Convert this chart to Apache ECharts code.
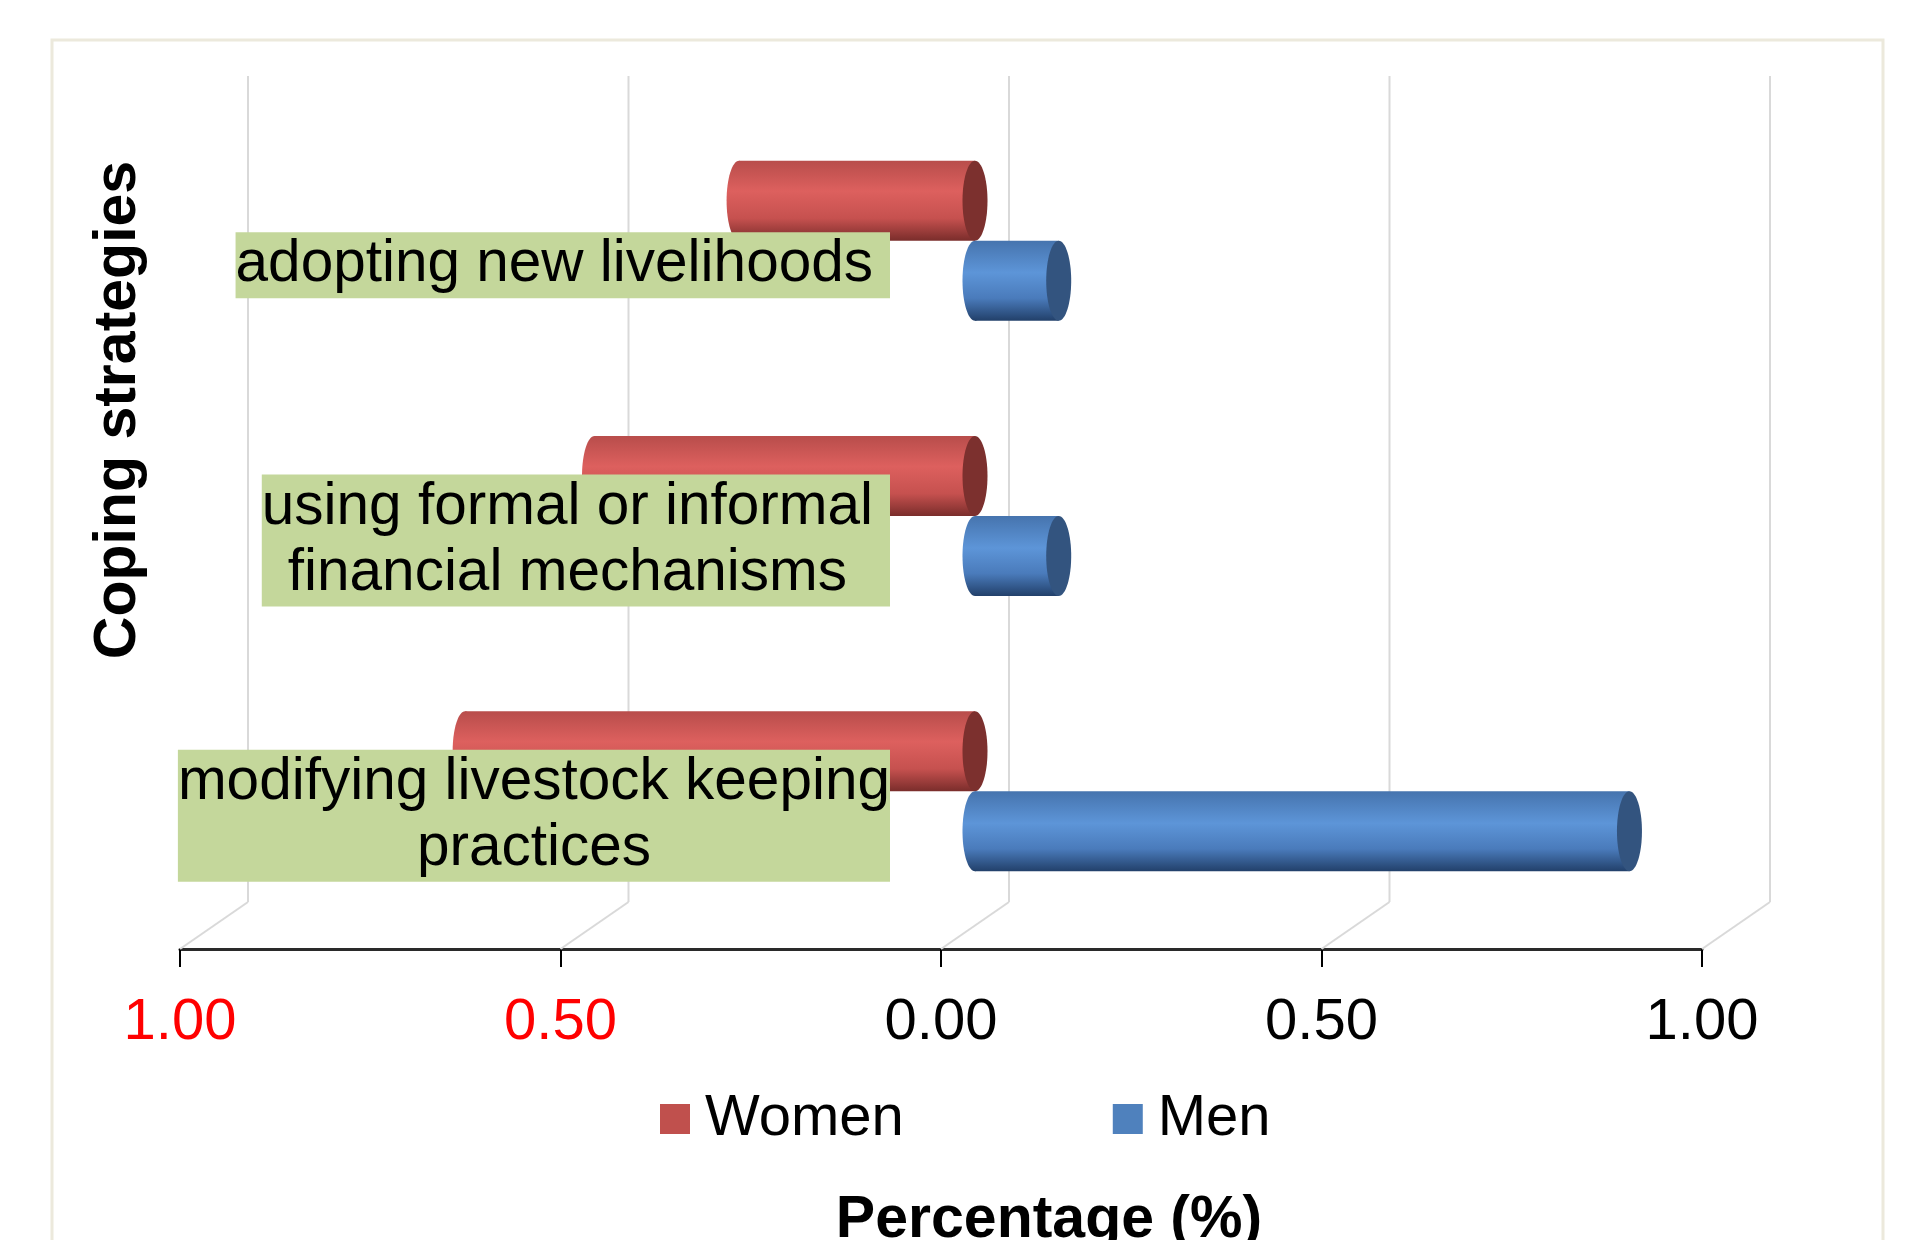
<!DOCTYPE html>
<html>
<head>
<meta charset="utf-8">
<script src="https://cdn.jsdelivr.net/npm/echarts@6/dist/echarts.min.js"></script>
<style>
  html, body { margin: 0; padding: 0; background: #ffffff; }
  #chart { width: 1921px; height: 1240px; }
</style>
</head>
<body>
<div id="chart"></div>
<script>
// Coping strategies, top to bottom
const strategies = [
  'adopting new livelihoods',
  'using formal or informal\nfinancial mechanisms',
  'modifying livestock keeping\npractices'
];
// Share of respondents (0-1) per strategy
const women = [0.31, 0.50, 0.67];
const men = [0.11, 0.11, 0.86];
// Percentage axis ticks (women to the left, men to the right)
const tickValues = [-1, -0.5, 0, 0.5, 1];

const FONT = "'Liberation Sans', Arial, sans-serif";
// Pseudo-3D depth: back wall is shifted right and up from the front axis
const DEPTH = [68, -47];
const BAR_SHIFT = [34, -20];   // bars sit about half way into the depth
const BAR_R = 40;              // cylinder radius (vertical)
const CAP_RX = 12.5;           // cylinder end ellipse half-width
// Category label boxes: right edge relative to the zero line, small right padding
const LABEL_DX = -51;
const LABEL_DY = 4.5;
const labelPadRight = [17, 17, 0];

const palettes = {
  women: {
    base: '#c0504d', cap: '#7c302e',
    stops: [[0, '#b84d4b'], [0.38, '#dd605e'], [0.72, '#c6514f'], [1, '#7a2d2b']]
  },
  men: {
    base: '#4f81bd', cap: '#33547f',
    stops: [[0, '#4674ae'], [0.4, '#5d95d8'], [0.72, '#4a7bbb'], [1, '#22406a']]
  }
};

function gradient(stops) {
  return new echarts.graphic.LinearGradient(0, 0, 0, 1,
    stops.map(s => ({ offset: s[0], color: s[1] })));
}

// Horizontal cylinder from 0 to value
function cylinderRenderer(pal, side) {
  return function (params, api) {
    const val = api.value(0);
    const cat = api.value(1);
    const zero = api.coord([0, cat]);
    const end = api.coord([val, cat]);
    const cy = zero[1] + BAR_SHIFT[1] + side * BAR_R;
    const x0 = Math.min(zero[0], end[0]) + BAR_SHIFT[0];
    const x1 = Math.max(zero[0], end[0]) + BAR_SHIFT[0];
    return {
      type: 'group',
      children: [
        { type: 'ellipse', shape: { cx: x0, cy: cy, rx: CAP_RX, ry: BAR_R },
          style: { fill: gradient(pal.stops) } },
        { type: 'rect', shape: { x: x0, y: cy - BAR_R, width: x1 - x0, height: BAR_R * 2 },
          style: { fill: gradient(pal.stops) } },
        { type: 'ellipse', shape: { cx: x1, cy: cy, rx: CAP_RX, ry: BAR_R },
          style: { fill: pal.cap } }
      ]
    };
  };
}

// Back wall gridline plus the floor line joining it to the front axis tick
function wallRenderer(params, api) {
  const p = api.coord([api.value(0), 0]);
  const cs = params.coordSys;
  const bottom = cs.y + cs.height;
  const stroke = { stroke: '#d9d9d9', lineWidth: 2 };
  return {
    type: 'group',
    children: [
      { type: 'line', shape: { x1: p[0] + DEPTH[0], y1: cs.y + DEPTH[1], x2: p[0] + DEPTH[0], y2: bottom + DEPTH[1] }, style: stroke },
      { type: 'line', shape: { x1: p[0], y1: bottom, x2: p[0] + DEPTH[0], y2: bottom + DEPTH[1] }, style: stroke }
    ]
  };
}

// Green category label box, centred lines, right-aligned next to the bars
function labelRenderer(params, api) {
  const idx = params.dataIndex;
  const p = api.coord([0, api.value(1)]);
  return {
    type: 'text',
    x: p[0] + LABEL_DX,
    y: p[1] + LABEL_DY,
    style: {
      text: strategies[idx].split('\n').map(s => '{c|' + s + '}').join('\n'),
      rich: {
        c: { align: 'center', fill: '#000000', fontSize: 58.5, lineHeight: 66, fontFamily: FONT }
      },
      align: 'right',
      verticalAlign: 'middle',
      backgroundColor: '#c4d79b',
      padding: [0, labelPadRight[idx], 0, 0]
    }
  };
}

const chart = echarts.init(document.getElementById('chart'), null, { renderer: 'canvas' });

chart.setOption({
  animation: false,
  backgroundColor: '#ffffff',
  textStyle: { fontFamily: FONT },
  grid: { left: 180, right: 219, top: 123, bottom: 291, containLabel: false },
  xAxis: {
    type: 'value',
    min: -1, max: 1, interval: 0.5,
    axisLine: { show: true, lineStyle: { color: '#2a2a2a', width: 3 } },
    axisTick: { show: true, length: 18, lineStyle: { color: '#000', width: 2 } },
    splitLine: { show: false },
    axisLabel: {
      margin: 45,
      formatter: v => (v < 0 ? '{neg|' : '{pos|') + Math.abs(v).toFixed(2) + '}',
      rich: {
        neg: { color: '#ff0000', fontSize: 58, fontFamily: FONT },
        pos: { color: '#000000', fontSize: 58, fontFamily: FONT }
      }
    }
  },
  yAxis: {
    type: 'category',
    data: strategies,
    inverse: true,
    axisLine: { show: false },
    axisTick: { show: false },
    splitLine: { show: false },
    axisLabel: { show: false }
  },
  legend: {
    data: ['Women', 'Men'],
    left: 660,
    top: 1090,
    padding: 0,
    icon: 'rect',
    itemWidth: 30,
    itemHeight: 30,
    itemGap: 209,
    textStyle: { fontSize: 58, color: '#000', fontFamily: FONT, padding: [0, 0, 0, 10] }
  },
  graphic: [
    { type: 'rect', shape: { x: 52, y: 40, width: 1831, height: 1300 },
      style: { fill: null, stroke: '#ece9dc', lineWidth: 3 }, silent: true, z: -10 },
    { type: 'text', x: 119, y: 410, rotation: Math.PI / 2,
      style: { text: 'Coping strategies', font: 'bold 59px ' + FONT, fill: '#000',
               textAlign: 'center', textVerticalAlign: 'middle' } },
    { type: 'text', x: 1049, y: 1221,
      style: { text: 'Percentage (%)', font: 'bold 59px ' + FONT, fill: '#000',
               textAlign: 'center', textVerticalAlign: 'middle' } }
  ],
  series: [
    {
      name: 'walls', type: 'custom', silent: true, clip: false, z: 1,
      data: tickValues.map(v => [v, 0]),
      encode: { x: 0, y: 1 },
      renderItem: wallRenderer
    },
    {
      name: 'Women', type: 'custom', clip: false, z: 3,
      itemStyle: { color: palettes.women.base },
      data: women.map((v, i) => [-v, i]),
      encode: { x: 0, y: 1 },
      renderItem: cylinderRenderer(palettes.women, -1)
    },
    {
      name: 'Men', type: 'custom', clip: false, z: 3,
      itemStyle: { color: palettes.men.base },
      data: men.map((v, i) => [v, i]),
      encode: { x: 0, y: 1 },
      renderItem: cylinderRenderer(palettes.men, 1)
    },
    {
      name: 'labels', type: 'custom', silent: true, clip: false, z: 5,
      data: strategies.map((s, i) => [0, i]),
      encode: { x: 0, y: 1 },
      renderItem: labelRenderer
    }
  ]
});
</script>
</body>
</html>
